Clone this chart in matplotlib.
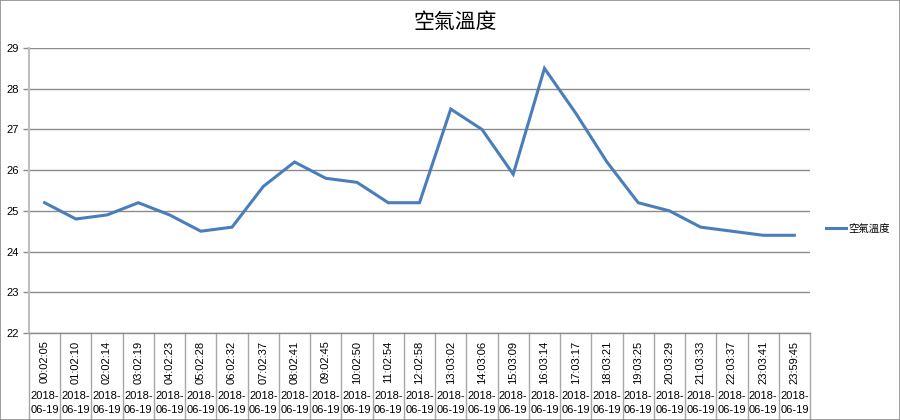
import matplotlib
matplotlib.use("Agg")
import matplotlib.pyplot as plt
import matplotlib.transforms as mtransforms
from matplotlib.patches import Rectangle

plt.rcParams['font.family'] = ['Liberation Sans', 'Noto Sans CJK TC', 'DejaVu Sans']

title = "空氣溫度"
series_name = "空氣溫度"
times = ["00:02:05", "01:02:10", "02:02:14", "03:02:19", "04:02:23", "05:02:28",
         "06:02:32", "07:02:37", "08:02:41", "09:02:45", "10:02:50", "11:02:54",
         "12:02:58", "13:03:02", "14:03:06", "15:03:09", "16:03:14", "17:03:17",
         "18:03:21", "19:03:25", "20:03:29", "21:03:33", "22:03:37", "23:03:41",
         "23:59:45"]
dates = ["2018-06-19"] * len(times)
values = [25.2, 24.8, 24.9, 25.2, 24.9, 24.5, 24.6, 25.6, 26.2, 25.8, 25.7, 25.2,
          25.2, 27.5, 27.0, 25.9, 28.5, 27.4, 26.2, 25.2, 25.0, 24.6, 24.5, 24.4,
          24.4]
yticks = [22, 23, 24, 25, 26, 27, 28, 29]

W, H = 900, 420
fig = plt.figure(figsize=(9, 4.2), dpi=100)
fig.patch.set_facecolor('white')
fig.patches.append(Rectangle((0, 0), 1, 1, transform=fig.transFigure,
                             fill=False, edgecolor='#8c8c8c', linewidth=1.2))

ax = fig.add_axes([29 / W, (H - 333) / H, 781 / W, 285 / H])
n = len(values)
x = list(range(n))
line, = ax.plot(x, values, color='#4a7ebb', linewidth=2.2, solid_joinstyle='miter',
                label=series_name)
ax.set_xlim(-0.5, n - 0.5)
ax.set_ylim(22, 29)
ax.set_yticks(yticks)
ax.set_yticklabels([str(v) for v in yticks], fontsize=8)
ax.tick_params(axis='y', length=4, width=1, color='#8c8c8c', pad=3)
ax.grid(axis='y', color='#8c8c8c', linewidth=1)
ax.set_axisbelow(True)
for s in ['top', 'right']:
    ax.spines[s].set_visible(False)
ax.spines['left'].set_color('#bfbfbf')
ax.spines['left'].set_linewidth(1.5)
ax.spines['bottom'].set_color('#8c8c8c')
ax.spines['bottom'].set_linewidth(1)
ax.set_xticks([])

trans = mtransforms.blended_transform_factory(ax.transData, ax.transAxes)
bottom_y = -87 / 285
for i in range(n + 1):
    ax.plot([i - 0.5, i - 0.5], [0, bottom_y], transform=trans, color='#a6a6a6',
            linewidth=1, clip_on=False)
for i, (t, d) in enumerate(zip(times, dates)):
    ax.text(i, -29 / 285, t, transform=trans, rotation=90, ha='center', va='center',
            fontsize=8, color='black')
    y1, y2 = d[:5], d[5:]
    ax.text(i, -63 / 285, y1, transform=trans, ha='center', va='center',
            fontsize=8, color='black')
    ax.text(i, -77 / 285, y2, transform=trans, ha='center', va='center',
            fontsize=8, color='black')

fig.text(455 / W, 1 - 22 / H, title, ha='center', va='center', fontsize=15,
         family=['Noto Sans CJK TC', 'DejaVu Sans'])

leg = fig.legend(handles=[line], loc='center left', bbox_to_anchor=(826 / W, 1 - 229 / H),
                 frameon=False, handlelength=1.9, handletextpad=0.2, borderpad=0,
                 borderaxespad=0,
                 prop={'family': ['Noto Sans CJK TC', 'DejaVu Sans'], 'size': 7.5})

fig.savefig('out.png', dpi=100, facecolor='white')
